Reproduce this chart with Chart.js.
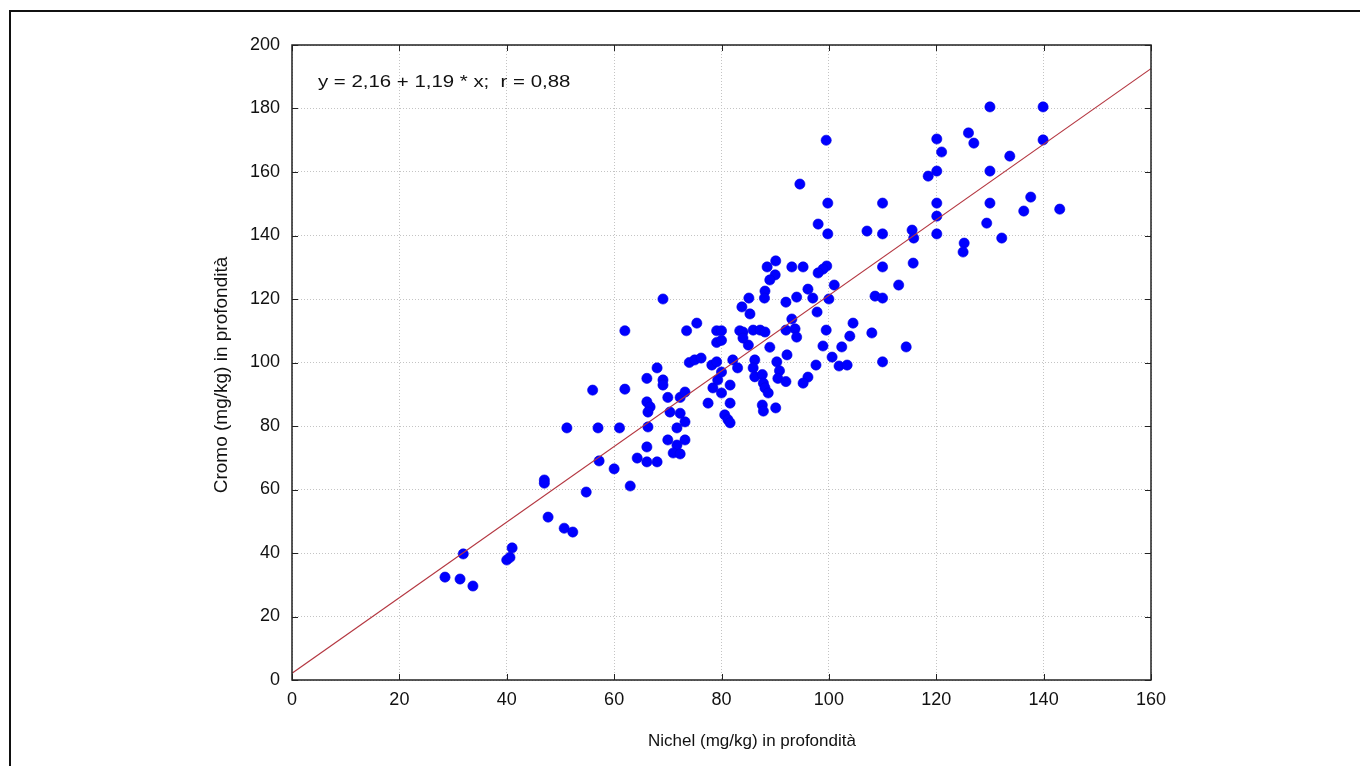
<!DOCTYPE html>
<html>
<head>
<meta charset="utf-8">
<title>Nichel vs Cromo in profondità</title>
<script src="https://cdn.jsdelivr.net/npm/chart.js@4.4.1/dist/chart.umd.min.js"></script>
<style>
  html, body { margin: 0; padding: 0; background: #fff; }
  #wrap { width: 1360px; height: 766px; position: relative; }
</style>
</head>
<body>
<div id="wrap"><canvas id="c" width="1360" height="766"></canvas></div>
<script>
// Nichel (mg/kg) measured at depth
const nichel = [
  28.5, 31.9, 31.3, 33.7, 40.0, 40.6, 41.0, 47.0, 47.0, 47.7,
  50.7, 52.3, 51.2, 54.8, 56.0, 57.0, 57.2, 60.0, 61.0, 62.0,
  62.0, 63.0, 64.3, 66.1, 68.0, 66.1, 66.3, 66.1, 66.7, 66.3,
  66.1, 68.0, 69.1, 69.1, 69.1, 70.0, 70.4, 70.0, 71.7, 71.7,
  71.0, 72.3, 72.3, 73.2, 72.3, 73.2, 73.2, 73.5, 75.4, 74.0,
  75.0, 76.2, 77.5, 78.2, 79.1, 78.4, 79.3, 80.0, 80.0, 79.1,
  80.0, 79.1, 80.0, 81.6, 81.6, 80.6, 81.2, 81.6, 82.1, 83.0,
  83.4, 84.0, 85.9, 87.2, 88.1, 83.8, 85.3, 85.1, 85.0, 84.0,
  89.0, 86.2, 85.9, 86.2, 87.6, 87.8, 88.1, 88.7, 87.6, 87.8,
  90.1, 90.3, 90.8, 90.5, 92.0, 92.2, 96.1, 95.2, 88.5, 90.1,
  93.1, 95.2, 99.6, 98.9, 98.0, 90.0, 89.0, 101.0, 96.1, 88.1,
  88.0, 94.0, 92.0, 97.0, 100.0, 97.8, 93.1, 93.7, 94.0, 92.0,
  99.5, 104.5, 103.9, 108.0, 98.9, 102.4, 100.6, 101.9, 103.4, 97.6,
  110.0, 114.4, 108.6, 110.0, 110.0, 115.7, 113.0, 99.5, 120.1, 121.0,
  118.5, 120.1, 94.6, 99.8, 110.0, 120.1, 120.1, 98.0, 99.8, 107.1,
  110.0, 115.5, 115.8, 120.1, 125.2, 125.0, 130.0, 139.9, 126.0, 127.0,
  139.9, 133.7, 130.0, 130.0, 137.6, 136.3, 143.0, 129.4, 132.2
];

// Cromo (mg/kg) measured at depth, same samples
const cromo = [
  32.4, 39.7, 31.8, 29.6, 37.8, 38.6, 41.6, 63.0, 62.0, 51.3,
  47.8, 46.6, 79.4, 59.2, 91.3, 79.4, 69.0, 66.5, 79.4, 110.0,
  91.6, 61.1, 69.9, 68.7, 68.7, 73.4, 79.7, 87.6, 86.0, 84.4,
  95.0, 98.3, 94.5, 92.9, 120.0, 89.0, 84.4, 75.6, 79.4, 74.0,
  71.5, 71.2, 89.0, 90.7, 84.0, 81.3, 75.6, 110.0, 112.4, 100.0,
  100.8, 101.4, 87.2, 99.2, 100.2, 92.0, 94.5, 97.0, 90.4, 110.0,
  110.0, 106.3, 107.0, 92.9, 87.2, 83.5, 82.0, 81.0, 100.8, 98.3,
  110.0, 109.6, 110.2, 110.2, 109.6, 117.5, 115.3, 120.3, 105.5, 107.7,
  104.8, 100.8, 98.3, 95.5, 96.2, 93.5, 92.0, 90.4, 86.6, 84.7,
  85.7, 100.2, 97.4, 95.0, 94.0, 102.4, 95.4, 93.5, 130.1, 132.0,
  130.1, 130.1, 130.4, 129.4, 128.2, 127.6, 126.0, 124.4, 123.1, 122.5,
  120.3, 120.6, 119.0, 120.3, 120.0, 115.9, 113.7, 110.6, 108.0, 110.2,
  110.2, 112.4, 108.3, 109.3, 105.2, 104.9, 101.7, 98.9, 99.2, 99.2,
  100.2, 104.9, 120.9, 120.3, 130.1, 131.3, 124.4, 170.0, 170.4, 166.3,
  158.7, 160.3, 156.2, 150.2, 150.2, 150.2, 146.1, 143.6, 140.5, 141.4,
  140.5, 141.7, 139.2, 140.5, 137.6, 134.8, 180.5, 180.5, 172.3, 169.1,
  170.1, 165.0, 160.3, 150.2, 152.1, 147.7, 148.3, 143.9, 139.2
];

// Axis ticks
const xTicks = [0, 20, 40, 60, 80, 100, 120, 140, 160];
const yTicks = [0, 20, 40, 60, 80, 100, 120, 140, 160, 180, 200];

// Axis titles
const xTitle = 'Nichel (mg/kg) in profondità';
const yTitle = 'Cromo (mg/kg) in profondità';

// Linear fit reported on the chart
const intercept = 2.16;
const slope = 1.19;
const corr = 0.88;

const points = nichel.map((v, i) => ({ x: v, y: cromo[i] }));
const xMin = xTicks[0], xMax = xTicks[xTicks.length - 1];
const fitLine = [
  { x: xMin, y: intercept + slope * xMin },
  { x: xMax, y: intercept + slope * xMax }
];

const it = n => n.toFixed(2).replace('.', ',');
const equation = 'y = ' + it(intercept) + ' + ' + it(slope) + ' * x;  r = ' + it(corr);

const FONT = '"Liberation Sans", Arial, Helvetica, sans-serif';

const decor = {
  id: 'decor',
  beforeDraw(chart) {
    const ctx = chart.ctx;
    ctx.save();
    ctx.fillStyle = '#fff';
    ctx.fillRect(0, 0, chart.width, chart.height);
    // page frame
    ctx.strokeStyle = '#111';
    ctx.lineWidth = 2;
    ctx.beginPath();
    ctx.moveTo(10, chart.height);
    ctx.lineTo(10, 11);
    ctx.lineTo(chart.width, 11);
    ctx.stroke();
    ctx.restore();
  },
  afterDraw(chart) {
    const { ctx, chartArea: a, scales: { x, y } } = chart;
    ctx.save();
    // plot box
    ctx.strokeStyle = '#222';
    ctx.lineWidth = 1.5;
    ctx.strokeRect(a.left, a.top, a.right - a.left, a.bottom - a.top);
    // inward tick marks on all four sides
    ctx.lineWidth = 1;
    ctx.beginPath();
    const t = 6;
    xTicks.forEach(v => {
      const px = Math.round(x.getPixelForValue(v)) + 0.5;
      ctx.moveTo(px, a.bottom); ctx.lineTo(px, a.bottom - t);
      ctx.moveTo(px, a.top); ctx.lineTo(px, a.top + t);
    });
    yTicks.forEach(v => {
      const py = Math.round(y.getPixelForValue(v)) + 0.5;
      ctx.moveTo(a.left, py); ctx.lineTo(a.left + t, py);
      ctx.moveTo(a.right, py); ctx.lineTo(a.right - t, py);
    });
    ctx.stroke();

    ctx.fillStyle = '#111';
    // axis titles
    ctx.textAlign = 'center';
    ctx.textBaseline = 'middle';
    ctx.font = '17px ' + FONT;
    ctx.fillText(xTitle, 752, 741);
    ctx.save();
    ctx.translate(222, 375);
    ctx.rotate(-Math.PI / 2);
    ctx.font = '19px ' + FONT;
    ctx.fillText(yTitle, 0, 0);
    ctx.restore();

    // fit equation
    ctx.textAlign = 'left';
    ctx.textBaseline = 'alphabetic';
    ctx.font = '17px ' + FONT;
    ctx.translate(a.left + 26, 87);
    ctx.scale(1.2, 1);
    ctx.fillText(equation, 0, 0);
    ctx.restore();
  }
};

new Chart(document.getElementById('c'), {
  type: 'scatter',
  data: {
    datasets: [
      {
        type: 'line',
        label: 'fit',
        data: fitLine,
        borderColor: 'rgb(180,55,65)',
        borderWidth: 1.2,
        pointRadius: 0,
        fill: false
      },
      {
        label: 'campioni',
        data: points,
        backgroundColor: 'rgb(0,0,255)',
        borderColor: 'rgb(0,0,225)',
        borderWidth: 0.6,
        pointRadius: 5.1,
        pointHoverRadius: 5.1
      }
    ]
  },
  options: {
    responsive: false,
    animation: false,
    devicePixelRatio: 1,
    layout: { padding: { left: 200, top: 45, right: 209, bottom: 0 } },
    plugins: {
      legend: { display: false },
      tooltip: { enabled: false }
    },
    scales: {
      x: {
        type: 'linear',
        min: 0, max: 160,
        afterFit: s => { s.height = 86; },
        afterBuildTicks: s => { s.ticks = xTicks.map(v => ({ value: v })); },
        grid: { color: '#c4c4c4', lineWidth: 1, drawTicks: false },
        border: { display: false, dash: [1, 2] },
        ticks: { color: '#111', font: { family: FONT, size: 18 }, padding: 9, maxRotation: 0 },
        title: { display: false }
      },
      y: {
        type: 'linear',
        min: 0, max: 200,
        afterFit: s => { s.width = 92; },
        afterBuildTicks: s => { s.ticks = yTicks.map(v => ({ value: v })); },
        grid: { color: '#c4c4c4', lineWidth: 1, drawTicks: false },
        border: { display: false, dash: [1, 2] },
        ticks: { color: '#111', font: { family: FONT, size: 18 }, padding: 12 },
        title: { display: false }
      }
    }
  },
  plugins: [decor]
});
</script>
</body>
</html>
